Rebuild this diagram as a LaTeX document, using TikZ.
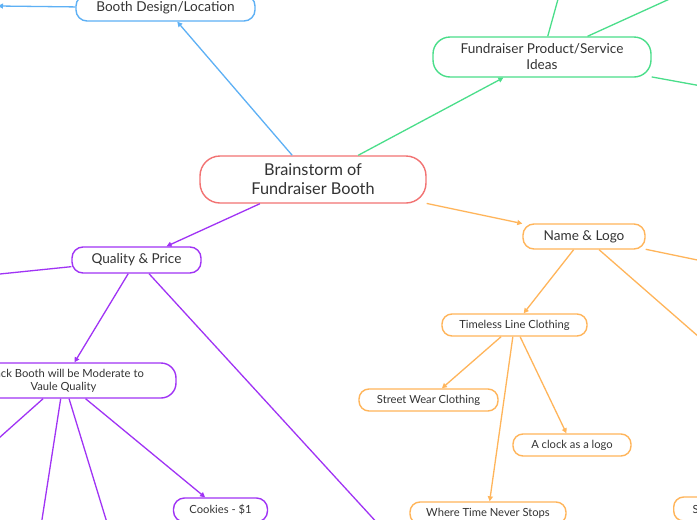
\documentclass[tikz,border=0pt]{standalone}
\usepackage{fontspec}
\setmainfont{Lato}
\usetikzlibrary{arrows.meta}
\definecolor{cblue}{HTML}{5DB0F5}
\definecolor{cgreen}{HTML}{4ADE8A}
\definecolor{cred}{HTML}{F27272}
\definecolor{cpurple}{HTML}{A033F5}
\definecolor{corange}{HTML}{FFB55A}
\definecolor{txt}{HTML}{333333}
\begin{document}
\begin{tikzpicture}[x=1pt,y=-1pt,
  box/.style={draw, line width=1.4pt, rounded corners=11pt, inner sep=0pt, align=center, text=txt, fill=white},
  big/.style={font=\fontsize{16.3}{19}\selectfont},
  mid/.style={font=\fontsize{13.6}{16}\selectfont},
  small/.style={font=\fontsize{11.2}{13}\selectfont},
  edge/.style={line width=1.3pt},
  tip/.style={-{Triangle[length=5pt,width=5pt]}}]
\useasboundingbox (0,0) rectangle (697,520);
\clip (0,0) rectangle (697,520);
\fill[white] (0,0) rectangle (697,520);

% nodes
\node[box, big, draw=cred, minimum width=226pt, minimum height=47pt, rounded corners=20pt] (root) at (313,179.5) {Brainstorm of\\Fundraiser Booth};
\node[box, mid, draw=cblue, minimum width=179pt, minimum height=26pt] (booth) at (165.5,8) {Booth Design/Location};
\node[box, mid, draw=cgreen, minimum width=218pt, minimum height=40pt, rounded corners=17pt] (fund) at (542,57) {Fundraiser Product/Service\\Ideas};
\node[box, mid, draw=cpurple, minimum width=129pt, minimum height=26pt] (qp) at (136.5,260) {Quality \& Price};
\node[box, small, draw=cpurple, minimum width=225pt, minimum height=35pt, rounded corners=15pt] (snack) at (63.5,380.5) {Snack Booth will be Moderate to\\Vaule Quality};
\node[box, small, draw=cpurple, minimum width=94pt, minimum height=24pt] (cookies) at (220.5,510) {Cookies - \$1};
\node[box, mid, draw=corange, minimum width=122pt, minimum height=25pt] (name) at (584,236.5) {Name \& Logo};
\node[box, small, draw=corange, minimum width=145pt, minimum height=22pt, rounded corners=10pt] (timeless) at (514.5,325) {Timeless Line Clothing};
\node[box, small, draw=corange, minimum width=139pt, minimum height=22pt, rounded corners=10pt] (street) at (428.5,400) {Street Wear Clothing};
\node[box, small, draw=corange, minimum width=118pt, minimum height=22pt, rounded corners=10pt] (clock) at (572,445) {A clock as a logo};
\node[box, small, draw=corange, minimum width=156pt, minimum height=22pt, rounded corners=10pt] (where) at (488,513) {Where Time Never Stops};
\node[box, small, draw=corange, minimum height=24pt, inner xsep=19pt, anchor=west, rounded corners=10pt] (sright) at (673,509) {S};

% free ends
\coordinate (boothL) at (-2,6);
\coordinate (fundA) at (560,-8);
\coordinate (fundB) at (685,-8);
\coordinate (fundC) at (707,87);
\coordinate (qpL) at (-10,275);
\coordinate (qpB) at (380,526);
\coordinate (snA) at (-10,446);
\coordinate (snB) at (41,526);
\coordinate (snC) at (108,526);
\coordinate (nmA) at (707,262);
\coordinate (nmB) at (707,344);

% connectors
\draw[edge, tip, cblue] (root) -- (booth);
\draw[edge, tip, cblue] (booth) -- (boothL);
\draw[edge, tip, cgreen] (root) -- (fund);
\draw[edge, cgreen] (fund) -- (fundA);
\draw[edge, cgreen] (fund) -- (fundB);
\draw[edge, cgreen] (fund) -- (fundC);
\draw[edge, tip, cpurple] (root) -- (qp);
\draw[edge, cpurple] (qp) -- (qpL);
\draw[edge, cpurple] (qp) -- (qpB);
\draw[edge, tip, cpurple] (qp) -- (snack);
\draw[edge, cpurple] (snack) -- (snA);
\draw[edge, cpurple] (snack) -- (snB);
\draw[edge, cpurple] (snack) -- (snC);
\draw[edge, tip, cpurple] (snack) -- (cookies);
\draw[edge, tip, corange] (root) -- (name);
\draw[edge, corange] (name) -- (nmA);
\draw[edge, corange] (name) -- (nmB);
\draw[edge, tip, corange] (name) -- (timeless);
\draw[edge, tip, corange] (timeless) -- (street);
\draw[edge, tip, corange] (timeless) -- (clock);
\draw[edge, tip, corange] (timeless) -- (where);
\end{tikzpicture}
\end{document}
